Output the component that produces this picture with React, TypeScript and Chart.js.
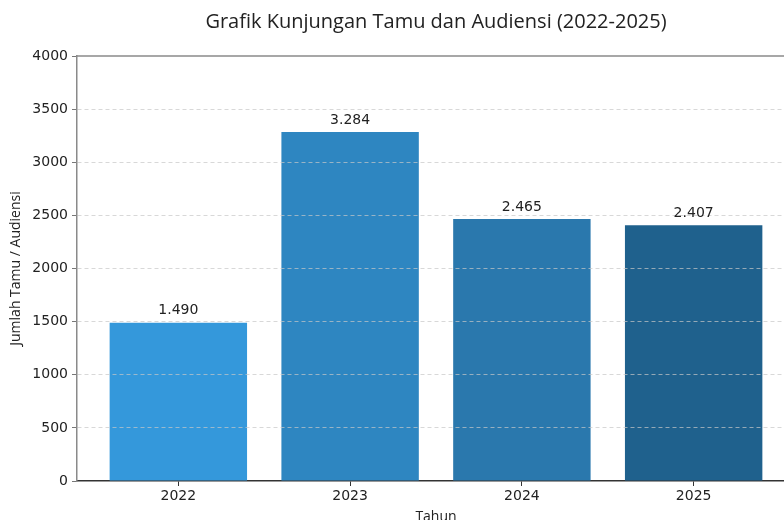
import React, { useEffect, useRef } from "react";
import { Chart, registerables } from "chart.js";

Chart.register(...registerables);

const TITLE = "Grafik Kunjungan Tamu dan Audiensi (2022-2025)";
const years = ["2022", "2023", "2024", "2025"];
const visits = [1490, 3284, 2465, 2407];
const barColors = ["#3498db", "#2e86c1", "#2a78ad", "#1f618d"];
const yTicks = [0, 500, 1000, 1500, 2000, 2500, 3000, 3500, 4000];

const W = 795;
const H = 525;

const fmt = (v: number) => String(v).replace(/\B(?=(\d{3})+(?!\d))/g, ".");

const NUM_FONT = "'DejaVu Sans', sans-serif";
const TXT_FONT = "'Open Sans', sans-serif";

export default function App() {
  const ref = useRef<HTMLCanvasElement | null>(null);

  useEffect(() => {
    if (!ref.current) return;
    const overlay = {
      id: "overlay",
      afterDraw(chart: any) {
        const { ctx, chartArea } = chart;
        ctx.save();
        ctx.strokeStyle = "#8a8a8a";
        ctx.lineWidth = 1.5;
        ctx.beginPath();
        ctx.moveTo(chartArea.left, chartArea.top);
        ctx.lineTo(chartArea.right, chartArea.top);
        ctx.stroke();
        ctx.fillStyle = "#222";
        ctx.font = `20px ${TXT_FONT}`;
        ctx.textAlign = "center";
        ctx.textBaseline = "middle";
        ctx.fillText(TITLE, (chartArea.left + chartArea.right) / 2, 22);
        const meta = chart.getDatasetMeta(0);
        ctx.font = `14px ${NUM_FONT}`;
        ctx.textBaseline = "bottom";
        meta.data.forEach((bar: any, i: number) => {
          ctx.fillText(fmt(visits[i]), bar.x, bar.y - 5);
        });
        ctx.restore();
      },
    };

    const chart = new Chart(ref.current, {
      type: "bar",
      data: {
        datasets: [
          {
            data: years.map((_, i) => ({ x: i, y: visits[i] })),
            backgroundColor: barColors,
            borderWidth: 0,
            categoryPercentage: 0.8,
            barPercentage: 1.0,
          },
        ],
      },
      options: {
        responsive: false,
        animation: false,
        devicePixelRatio: 1,
        layout: { padding: { top: 56, left: 0, right: 0, bottom: 0 } },
        plugins: {
          legend: { display: false },
          tooltip: { enabled: false },
          title: { display: false },
        },
        scales: {
          x: {
            type: "linear",
            min: -0.59,
            max: 3.59,
            offset: false,
            afterBuildTicks: (scale: any) => {
              scale.ticks = years.map((_, i) => ({ value: i }));
            },
            afterFit: (scale: any) => {
              scale.height = H - 481;
            },
            ticks: {
              callback: (v: any) => years[Math.round(Number(v))] ?? "",
              color: "#222",
              font: { family: NUM_FONT, size: 14 },
              padding: 2,
              maxRotation: 0,
              autoSkip: false,
            },
            grid: {
              offset: false,
              drawOnChartArea: false,
              drawTicks: true,
              tickLength: 5,
              tickColor: "#333",
            },
            border: { display: true, color: "#333", width: 1.5 },
            title: {
              display: true,
              text: "Tahun",
              color: "#222",
              font: { family: TXT_FONT, size: 14 },
              padding: { top: 0, bottom: 0 },
            },
          },
          y: {
            min: 0,
            max: 4000,
            afterBuildTicks: (scale: any) => {
              scale.ticks = yTicks.map((v) => ({ value: v }));
            },
            afterFit: (scale: any) => {
              scale.width = 77;
            },
            ticks: {
              callback: (v: any) => String(v),
              color: "#222",
              font: { family: NUM_FONT, size: 14 },
              padding: 4,
              z: 1,
            },
            grid: {
              z: 1,
              color: (c: any) =>
                c.tick && (c.tick.value === 0 || c.tick.value === 4000)
                  ? "rgba(0,0,0,0)"
                  : "rgba(200,200,200,0.7)",
              lineWidth: 1,
              drawTicks: true,
              tickLength: 5,
              tickColor: "#777",
              tickBorderDash: [],
            },
            border: { display: true, color: "#8a8a8a", width: 1.5, dash: [4, 3], z: 1 },
            title: {
              display: true,
              text: "Jumlah Tamu / Audiensi",
              color: "#222",
              font: { family: TXT_FONT, size: 14 },
              padding: { top: 8, bottom: 0 },
            },
          },
        },
      },
      plugins: [overlay],
    } as any);
    return () => chart.destroy();
  }, []);

  return (
    <div
      style={{
        position: "fixed",
        left: 0,
        top: 0,
        width: 784,
        height: 520,
        overflow: "hidden",
        background: "#fff",
      }}
    >
      <canvas ref={ref} width={W} height={H} style={{ width: W, height: H, display: "block" }} />
    </div>
  );
}
